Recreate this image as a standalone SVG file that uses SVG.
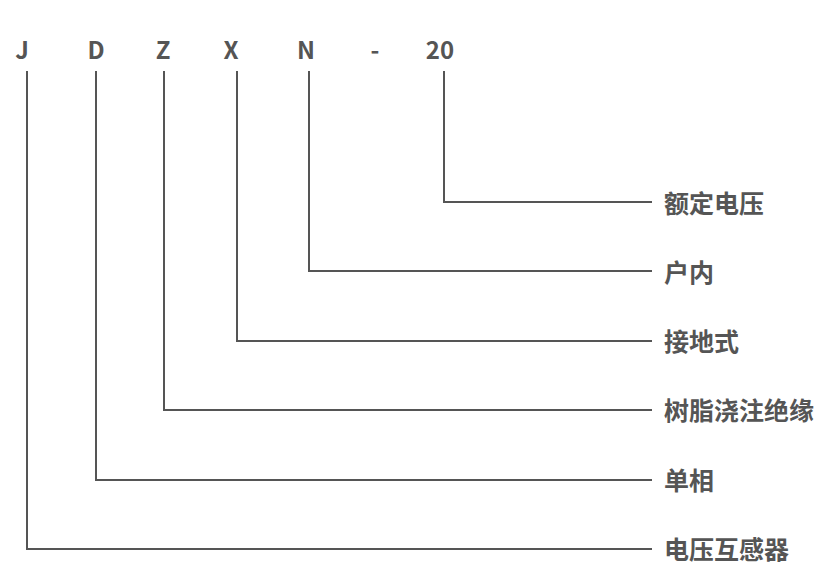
<svg xmlns="http://www.w3.org/2000/svg" width="821" height="573" viewBox="0 0 821 573">
<style>
.t{font-family:"Noto Sans CJK SC","Noto Sans",sans-serif;font-weight:bold;font-size:24px;fill:#555;}
.z{font-size:25px;}
.c{text-anchor:middle;}
.l{fill:none;stroke:#555;stroke-width:2;}
</style>
<rect width="821" height="573" fill="#fff"/>
<g id="code">
<text class="t c" x="22" y="59">J</text>
<text class="t c" x="96" y="59">D</text>
<text class="t c" x="163" y="59">Z</text>
<text class="t c" x="231" y="59">X</text>
<text class="t c" x="306" y="59">N</text>
<text class="t c" x="375" y="59">-</text>
<text class="t c" x="440" y="59">20</text>
</g>
<g id="connectors">
<polyline class="l" points="444,71 444,202 652,202"/>
<polyline class="l" points="309,71 309,271 652,271"/>
<polyline class="l" points="237,71 237,341 652,341"/>
<polyline class="l" points="164,71 164,410 652,410"/>
<polyline class="l" points="96,71 96,480 652,480"/>
<polyline class="l" points="27,71 27,549 652,549"/>
</g>
<g id="n1"><text class="t z" x="664" y="213">额定电压</text></g>
<g id="n2"><text class="t z" x="664" y="282">户内</text></g>
<g id="n3"><text class="t z" x="664" y="351">接地式</text></g>
<g id="n4"><text class="t z" x="664" y="420">树脂浇注绝缘</text></g>
<g id="n5"><text class="t z" x="664" y="490">单相</text></g>
<g id="n6"><text class="t z" x="664" y="559">电压互感器</text></g>
</svg>
